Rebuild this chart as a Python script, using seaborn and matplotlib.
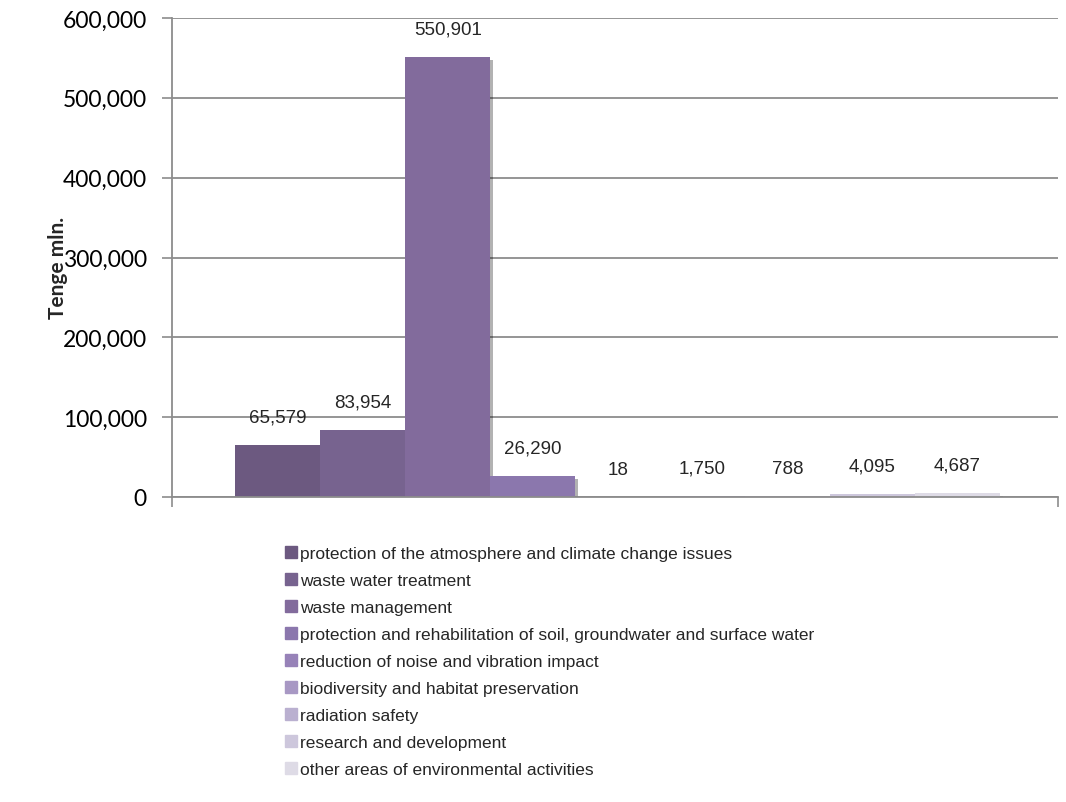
import matplotlib
matplotlib.use("Agg")
import matplotlib.pyplot as plt
import matplotlib.patheffects as pe
import seaborn as sns
import pandas as pd
from matplotlib.ticker import FuncFormatter

categories = [
    "protection of the atmosphere and climate change issues",
    "waste water treatment",
    "waste management",
    "protection and rehabilitation of soil, groundwater and surface water",
    "reduction of noise and vibration impact",
    "biodiversity and habitat preservation",
    "radiation safety",
    "research and development",
    "other areas of environmental activities",
]
values = [65579, 83954, 550901, 26290, 18, 1750, 788, 4095, 4687]
colors = ["#6c5980", "#77638f", "#826b9c", "#8b77ad", "#9782b8",
          "#a898c4", "#bab0d0", "#cdc7dc", "#dedbe6"]
y_ticks = [0, 100000, 200000, 300000, 400000, 500000, 600000]

df = pd.DataFrame({"group": [""] * len(categories), "category": categories, "value": values})

sns.set_style("white")
fig = plt.figure(figsize=(10.66, 8.03), dpi=100)
ax = fig.add_axes([172 / 1066, 1 - 498 / 803, (1058 - 172) / 1066, (498 - 19) / 803])

sns.barplot(data=df, x="group", y="value", hue="category", hue_order=categories,
            palette=colors, width=0.863, ax=ax, legend=False, saturation=1,
            linewidth=0)

for patch in ax.patches:
    patch.set_path_effects([pe.SimplePatchShadow(offset=(2, -2), shadow_rgbFace="black", alpha=0.3),
                            pe.Normal()])

ax.set_xlim(-0.503, 0.497)
ax.set_ylim(0, 600000)
ax.set_yticks(y_ticks)
ax.yaxis.set_major_formatter(FuncFormatter(lambda v, p: f"{int(v):,}"))
ax.set_xticks([-0.503, 0.497])
ax.set_xticklabels(["", ""])
ax.tick_params(axis="x", length=7, width=1.2, color="#8c8c8c", direction="out", bottom=True)
ax.tick_params(axis="y", length=7, width=1.2, color="#8c8c8c", direction="out", left=True,
               labelsize=16.5, pad=11, labelcolor="black")
for lbl in ax.get_yticklabels():
    lbl.set_fontfamily("Lato")
ax.grid(axis="y", color="#8c8c8c", linewidth=1.3)
ax.set_axisbelow(True)
for s in ["top", "right"]:
    ax.spines[s].set_visible(False)
for s in ["left", "bottom"]:
    ax.spines[s].set_color("#8c8c8c")
    ax.spines[s].set_linewidth(1.3)
ax.set_xlabel("")
ax.set_ylabel("Tenge mln.", fontsize=15, fontweight="bold", fontfamily="Lato")
ax.yaxis.set_label_coords(-104 / 886, 0.48)

# value labels
for patch, v in zip(ax.patches, values):
    x = patch.get_x() + patch.get_width() / 2
    ax.annotate(f"{v:,}", (x, patch.get_height()), xytext=(0, 20), textcoords="offset points",
                ha="center", va="center", fontsize=13.5, family=["Liberation Sans"])

handles = [plt.Rectangle((0, 0), 1, 1, color=c) for c in colors]
fig.legend(handles, categories, loc="upper left", bbox_to_anchor=(285 / 1066, 1 - 547 / 803),
           frameon=False, prop={"family": "Liberation Sans", "size": 12.5},
           handlelength=0.7, handleheight=0.7, handletextpad=0.18, labelspacing=0.68,
           borderaxespad=0, borderpad=0)

fig.savefig("out.png", dpi=100)
